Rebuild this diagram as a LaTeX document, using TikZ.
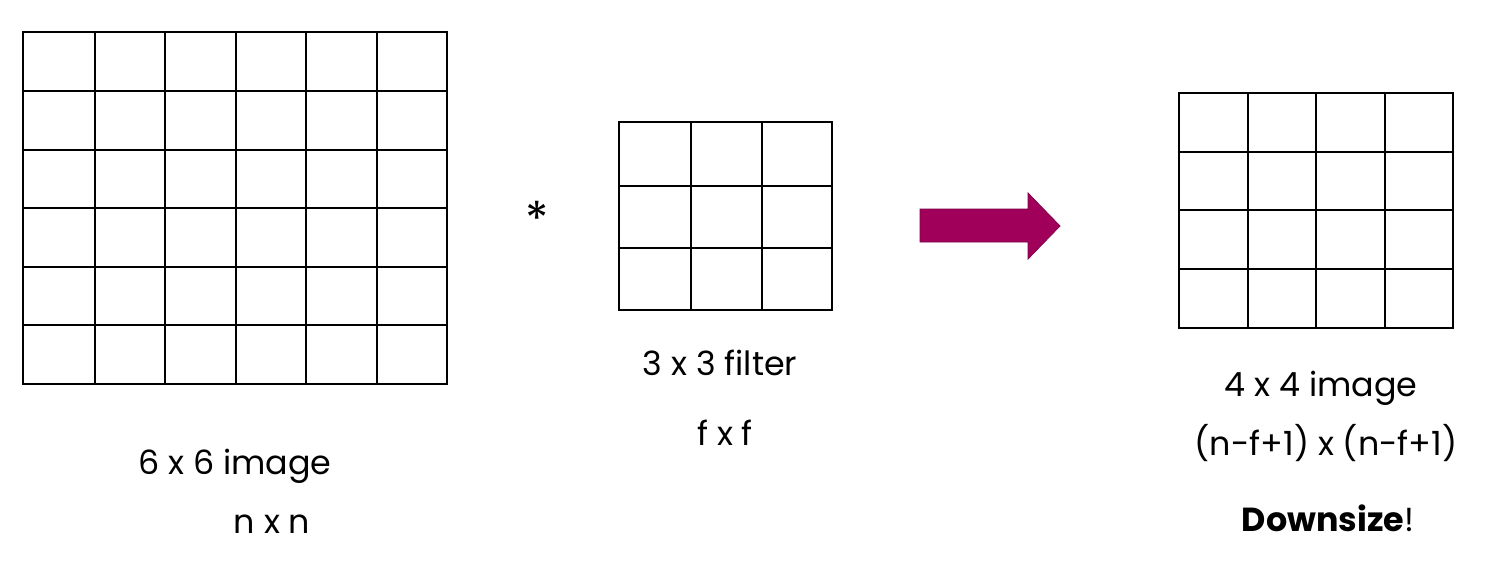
\documentclass[tikz,border=0pt]{standalone}
\usepackage{fontspec}
\setmainfont{Poppins}
\definecolor{arrowmag}{RGB}{160,0,90}
\begin{document}
\begin{tikzpicture}[x=0.75pt,y=-0.75pt,
  gridline/.style={line width=1.5pt,black},
  lbl/.style={anchor=base,inner sep=0pt,font=\fontsize{25}{30}\selectfont},
  fatarrow/.style={fill=arrowmag,draw=arrowmag!80!black,line width=0.6pt}]
\useasboundingbox (0,0) rectangle (1491,561);
% 6x6 grid
\draw[gridline] (23,32) rectangle (447,384);
\foreach \xx in {95,165,236,306,377} \draw[gridline] (\xx,32) -- (\xx,384);
\foreach \yy in {91,150,208,267,325} \draw[gridline] (23,\yy) -- (447,\yy);
% 3x3 filter
\draw[gridline] (619,122) rectangle (832,310);
\foreach \xx in {691,762} \draw[gridline] (\xx,122) -- (\xx,310);
\foreach \yy in {186,248} \draw[gridline] (619,\yy) -- (832,\yy);
% 4x4 output
\draw[gridline] (1179,93) rectangle (1453,328);
\foreach \xx in {1248,1316,1385} \draw[gridline] (\xx,93) -- (\xx,328);
\foreach \yy in {152,210,269} \draw[gridline] (1179,\yy) -- (1453,\yy);
% arrow
\draw[fatarrow] (920,209) -- (1028,209) -- (1028,193) -- (1060,226) -- (1028,259) -- (1028,242) -- (920,242) -- cycle;
% star
\node[lbl,font=\fontsize{36}{40}\selectfont] (star) at (537,236) {*};
% labels
\node[lbl] (l1) at (235,474) {6 x 6 image};
\node[lbl] (l2) at (272,533) {n x n};
\node[lbl] (l3) at (720,375) {3 x 3 filter};
\node[lbl] (l4) at (725,445) {f x f};
\node[lbl] (l5) at (1321,396) {4 x 4 image};
\node[lbl] (l6) at (1326,455) {(n-f+1) x (n-f+1)};
\node[lbl] (l7) at (1328,531) {\textbf{Downsize}!};
\end{tikzpicture}
\end{document}
